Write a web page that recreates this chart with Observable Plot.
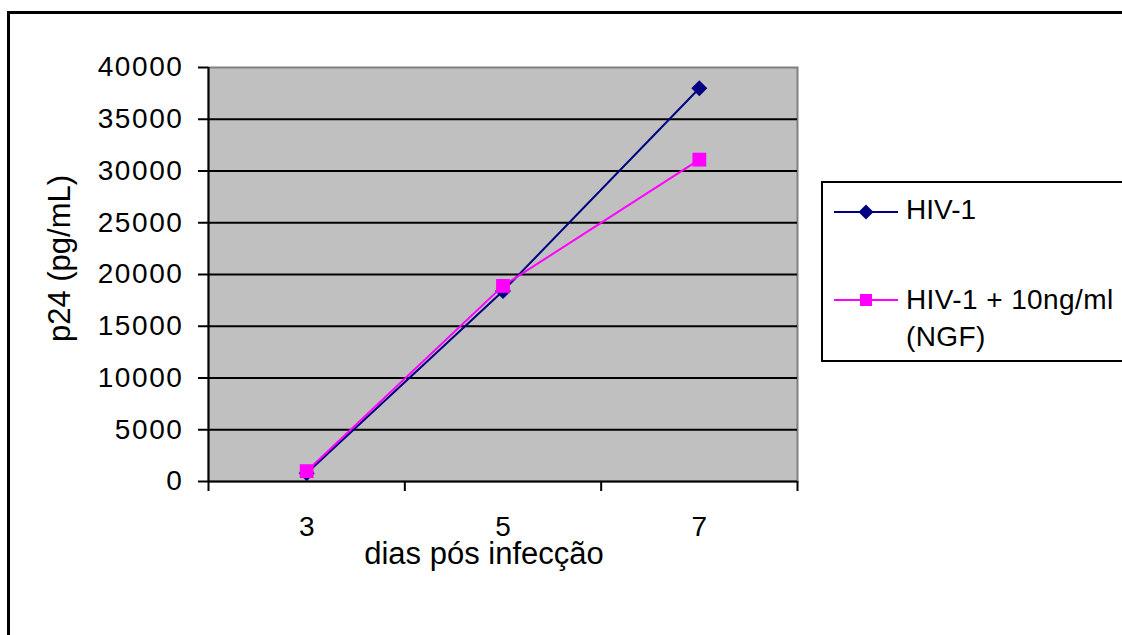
<!DOCTYPE html>
<html><head><meta charset="utf-8">
<script src="https://cdn.jsdelivr.net/npm/d3@7"></script>
<script src="https://cdn.jsdelivr.net/npm/@observablehq/plot@0.6"></script>
<style>
html,body{margin:0;padding:0;overflow:hidden;background:#fff;}
#wrap{position:relative;width:1122px;height:635px;font-family:"Liberation Sans",Arial,sans-serif;color:#000;}
#border{position:absolute;left:7px;top:11px;width:1200px;height:700px;border:3px solid #000;box-sizing:border-box;}
#chart{position:absolute;left:0;top:0;}
#legendBox{position:absolute;left:821px;top:181px;width:400px;height:181px;border:2px solid #000;box-sizing:border-box;background:#fff;}
.lg-sym{position:absolute;}
.lg-txt{position:absolute;font-size:28px;white-space:nowrap;}
</style></head>
<body>
<div id="wrap">
  <div id="border"></div>
  <div id="chart"></div>
  <div id="legendBox"></div>
  <svg class="lg-sym" id="sym0" style="left:834px;top:202px" width="64" height="20"></svg>
  <div class="lg-txt" id="txt0" style="left:906px;top:194px;line-height:32px"></div>
  <svg class="lg-sym" id="sym1" style="left:834px;top:290px" width="64" height="20"></svg>
  <div class="lg-txt" id="txt1" style="left:906px;top:281px;line-height:37px;letter-spacing:0.4px"></div>
</div>
<script>
// ---- data ----
const days = [3, 5, 7];
const hiv = [800, 18400, 38000];
const ngf = [1000, 18900, 31100];
const seriesNames = ["HIV-1", "HIV-1 + 10ng/ml", "(NGF)"];
const seriesColors = ["#000080", "#FF00FF"];
const yTicks = [0, 5000, 10000, 15000, 20000, 25000, 30000, 35000, 40000];
const xBounds = [2, 4, 6, 8];
const xTitle = "dias pós infecção";
const yTitle = "p24 (pg/mL)";

const rowsHiv = days.map((d, i) => ({day: d, value: hiv[i]}));
const rowsNgf = days.map((d, i) => ({day: d, value: ngf[i]}));

const chart = Plot.plot({
  width: 1122,
  height: 635,
  marginLeft: 208,
  marginRight: 325,
  marginTop: 67,
  marginBottom: 154,
  style: {background: "transparent", fontFamily: "'Liberation Sans', Arial, sans-serif", fontSize: "28px", color: "#000"},
  x: {domain: [2, 8]},
  y: {domain: [0, 40000]},
  marks: [
    Plot.frame({fill: "#C0C0C0", stroke: "#808080", strokeWidth: 2}),
    Plot.ruleY(yTicks.filter(v => v > 0 && v < 40000), {stroke: "#000", strokeWidth: 2}),
    Plot.ruleX([xBounds[0]], {stroke: "#000", strokeWidth: 2}),
    Plot.ruleY([0], {stroke: "#000", strokeWidth: 2}),
    Plot.axisY({ticks: yTicks, tickSize: 10, tickPadding: 15, strokeWidth: 2, tickFormat: d => String(d), label: null, fontSize: 28}),
    Plot.axisX({ticks: xBounds, tickSize: 10, strokeWidth: 2, tickFormat: () => "", label: null}),
    Plot.axisX({ticks: days, tickSize: 0, tickPadding: 35, tickFormat: d => String(d), label: null, fontSize: 28}),
    Plot.line(rowsHiv, {x: "day", y: "value", stroke: seriesColors[0], strokeWidth: 2}),
    Plot.dot(rowsHiv, {x: "day", y: "value", symbol: "diamond2", r: 7.2, fill: seriesColors[0], stroke: "none"}),
    Plot.line(rowsNgf, {x: "day", y: "value", stroke: seriesColors[1], strokeWidth: 2}),
    Plot.dot(rowsNgf, {x: "day", y: "value", symbol: "square", r: 7.8, fill: seriesColors[1], stroke: "none"}),
    Plot.text([xTitle], {text: d => d, frameAnchor: "bottom", textAnchor: "middle", lineAnchor: "middle", dx: -19, dy: 73, fontSize: 31}),
    Plot.text([yTitle], {text: d => d, frameAnchor: "left", textAnchor: "middle", lineAnchor: "middle", rotate: -90, dx: -148, dy: -16, fontSize: 31})
  ]
});
document.getElementById("chart").appendChild(chart);
// widen y tick labels slightly to match the reference's glyph width
d3.select(chart).selectAll("g[aria-label='y-axis tick label'] text").style("letter-spacing", "1.6px");

// ---- legend ----
function drawSym(id, color, kind) {
  const s = d3.select("#" + id);
  s.append("line").attr("x1", 0).attr("x2", 64).attr("y1", 10).attr("y2", 10)
    .attr("stroke", color).attr("stroke-width", 2);
  if (kind === "diamond") {
    s.append("path").attr("d", "M32,2.5L39.5,10L32,17.5L24.5,10Z").attr("fill", color);
  } else {
    s.append("rect").attr("x", 26).attr("y", 4).attr("width", 12).attr("height", 12).attr("fill", color);
  }
}
drawSym("sym0", seriesColors[0], "diamond");
drawSym("sym1", seriesColors[1], "square");
document.getElementById("txt0").textContent = seriesNames[0];
document.getElementById("txt1").innerHTML = seriesNames[1] + "<br>" + seriesNames[2];
</script>
</body></html>
